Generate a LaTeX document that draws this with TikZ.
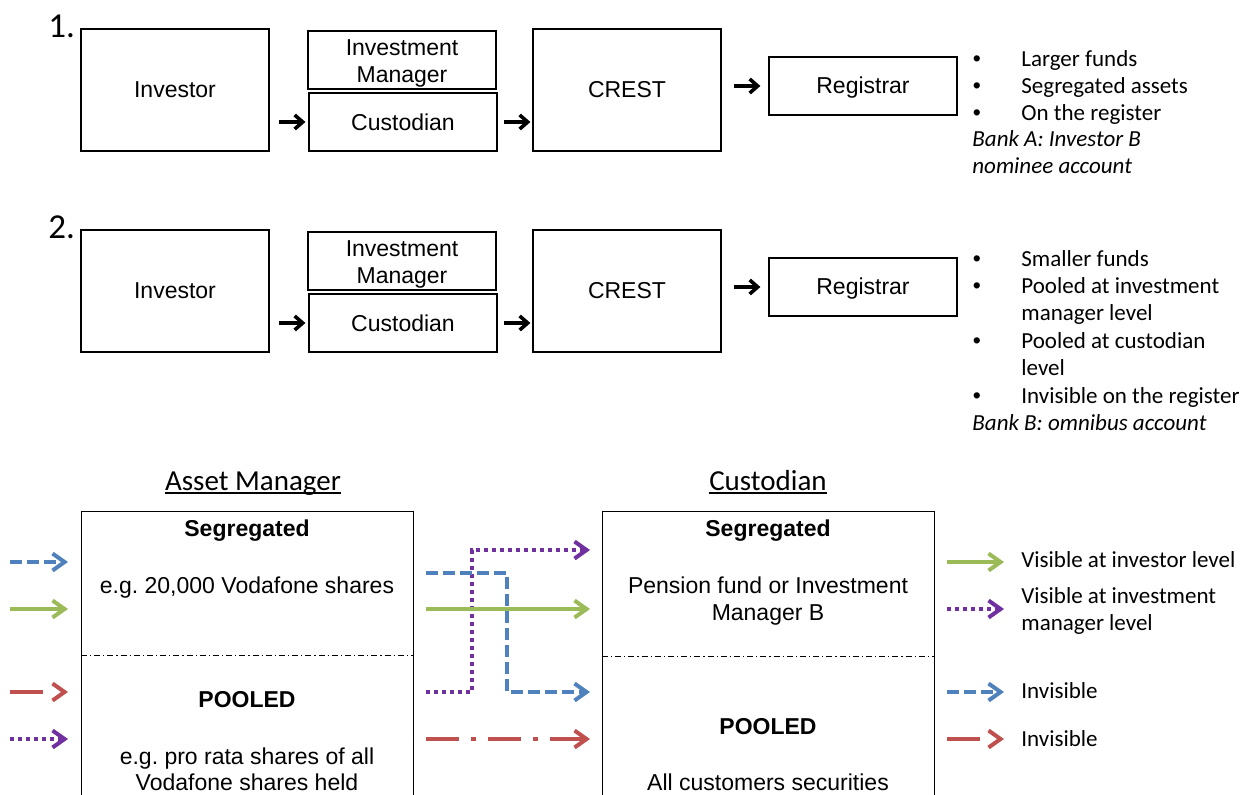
\documentclass[tikz,border=0pt]{standalone}
\usepackage{fontspec}
\setmainfont{Liberation Sans}
\newfontfamily\calibri{Carlito}
\usepackage{tikz}
\usetikzlibrary{arrows.meta,positioning,calc}
\frenchspacing

\definecolor{accblue}{RGB}{79,129,189}
\definecolor{accgreen}{RGB}{155,187,89}
\definecolor{accred}{RGB}{192,80,77}
\definecolor{accpurple}{RGB}{112,48,160}

\begin{document}
\begin{tikzpicture}[x=0.5pt,y=-0.5pt,
    box/.style={draw, line width=0.6pt, inner sep=0pt, align=center,
      font=\fontsize{11.5}{13.5}\selectfont},
    tallbox/.style={box, minimum width=94pt, minimum height=61pt},
    flatbox/.style={box, minimum width=94pt, minimum height=29pt},
    panel/.style={draw, line width=0.6pt, minimum width=166pt, minimum height=150pt, anchor=north west},
    blk/.style={line width=1.8pt, -{Straight Barb[length=4pt,width=7pt,line width=1.8pt]}},
    num/.style={font=\calibri\fontsize{17.5}{20}\selectfont, inner sep=0pt, anchor=base west},
    note/.style={font=\calibri\fontsize{11.5}{13.7}\selectfont, inner sep=0pt, anchor=base west},
    bul/.style={font=\fontsize{11.5}{13.7}\selectfont, inner sep=0pt, anchor=base},
    head/.style={font=\calibri\fontsize{14.5}{17}\selectfont, inner sep=0pt, anchor=base},
    txt/.style={font=\fontsize{11.5}{13.5}\selectfont, inner sep=0pt, anchor=base},
    ttl/.style={font=\bfseries\fontsize{11.5}{13.5}\selectfont, inner sep=0pt, anchor=base},
    legend/.style={note},
    divider/.style={line width=0.5pt, dash pattern=on 3pt off 1.5pt on 0.6pt off 1.5pt},
    flow/.style={line width=2pt, -{Straight Barb[length=6pt,width=8.5pt,line width=2pt]}},
    vis/.style={flow, accgreen},
    imv/.style={flow, accpurple, dash pattern=on 2pt off 2pt},
    hid/.style={flow, accblue, dash pattern=on 6pt off 2.5pt},
    hidr/.style={flow, accred, dash pattern=on 16.5pt off 30pt},
    hidrd/.style={flow, accred, dash pattern=on 16.5pt off 6pt on 2.5pt off 6pt}
  ]
  \useasboundingbox (0,0) rectangle (1240,794);
  \clip (0,0) rectangle (1240,794);

  % Chains 1 and 2
  \foreach \n/\dy in {1/0,2/201}{
    \node[num] (num\n) at (48,37+\dy) {\n.};
    \node[tallbox] (inv\n) at (175,90+\dy) {Investor};
    \node[flatbox] (im\n) at (402,60+\dy) {\rule{0pt}{11.5pt}Investment\\Manager};
    \node[flatbox] (cus\n) at (403,122+\dy) {Custodian};
    \node[tallbox] (crest\n) at (627,90+\dy) {CREST};
    \node[flatbox] (reg\n) at (863,86+\dy) {\rule{0pt}{9.5pt}Registrar};
    \draw[blk, shorten <=4.5pt, shorten >=1.5pt] (cus\n.west -| inv\n.east) -- (cus\n.west);
    \draw[blk, shorten <=3.25pt, shorten >=1pt] (cus\n.east) -- (cus\n.east -| crest\n.west);
    \draw[blk, shorten <=6pt, shorten >=4pt] (reg\n.west -| crest\n.east) -- (reg\n.west);
  }

  % Notes 1
  \foreach \yy/\txt [count=\i] in {66/Larger funds, 93.4/Segregated assets, 120.8/On the register}{
    \node[bul] (ba\i) at (977,\yy) {\textbullet};
    \node[note] (na\i) at (1021,\yy) {\txt};
  }
  \node[note] (bankA) at (972,146.7) {\itshape Bank A: Investor B};
  \node[note] (bankA2) at (972,173.4) {\itshape nominee account};

  % Notes 2
  \foreach \yy [count=\i] in {266,293.4,348.2,403}
    \node[bul] (bb\i) at (977,\yy) {\textbullet};
  \foreach \yy/\txt [count=\i] in {266/Smaller funds, 293.4/Pooled at investment,
      320.8/manager level, 348.2/Pooled at custodian, 375.6/level, 403/Invisible on the register}
    \node[note] (nb\i) at (1021,\yy) {\txt};
  \node[note] (bankB) at (972,430.4) {\itshape Bank B: omnibus account};

  % Holdings
  \node[head] (amh) at (253,490) {Asset Manager};
  \node[head] (cuh) at (768,490) {Custodian};
  \draw[line width=0.75pt] ([yshift=-1.5pt]amh.base west) -- ([yshift=-1.5pt]amh.base east);
  \draw[line width=0.75pt] ([yshift=-1.5pt]cuh.base west) -- ([yshift=-1.5pt]cuh.base east);

  \node[panel] (am) at (81,511) {};
  \node[panel] (cu) at (602,511) {};
  \coordinate (dv1) at (0,655);
  \coordinate (dv2) at (0,656);
  \draw[divider] (am.west |- dv1) -- (am.east |- dv1);
  \draw[divider] (cu.west |- dv2) -- (cu.east |- dv2);

  \node[ttl] (amseg) at (247,536) {Segregated};
  \node[txt] (amex) at (247,593) {e.g. 20,000 Vodafone shares};
  \node[ttl] (ampool) at (247,707) {POOLED};
  \node[txt] (amex2) at (247,764) {e.g. pro rata shares of all};
  \node[txt] (amex3) at (247,790) {Vodafone shares held};

  \node[ttl] (cuseg) at (768,536) {Segregated};
  \node[txt] (cuex) at (768,593) {Pension fund or Investment};
  \node[txt] (cuex2) at (768,620) {Manager B};
  \node[ttl] (cupool) at (768,734) {POOLED};
  \node[txt] (cuex3) at (768,790) {All customers securities};

  % Flows in
  \coordinate (in1) at (10,562);
  \coordinate (in2) at (10,609);
  \coordinate (in3) at (10,692);
  \coordinate (in4) at (10,739);
  \draw[hid, shorten >=6.5pt] (in1) -- (in1 -| am.west);
  \draw[vis, shorten >=6.5pt] (in2) -- (in2 -| am.west);
  \draw[hidr, shorten >=6.5pt] (in3) -- (in3 -| am.west);
  \draw[imv, shorten >=6.5pt] (in4) -- (in4 -| am.west);

  % Flows across
  \coordinate (jog1) at (472,550);
  \coordinate (jog2) at (507,573);
  \draw[imv, shorten <=6pt, shorten >=6pt] (in3 -| am.east) -| (jog1) -- (jog1 -| cu.west);
  \draw[hid, shorten <=6pt, shorten >=6pt] (jog2 -| am.east) -- (jog2) |- (in3 -| cu.west);
  \draw[vis, shorten <=6pt, shorten >=6pt] (in2 -| am.east) -- (in2 -| cu.west);
  \draw[hidrd, shorten <=6pt, shorten >=6pt] (in4 -| am.east) -- (in4 -| cu.west);

  % Legend
  \node[legend] (lg1) at (1021,567) {Visible at investor level};
  \node[legend] (lg2) at (1021,603) {Visible at investment};
  \node[legend] (lg2b) at (1021,630) {manager level};
  \node[legend] (lg3) at (1021,698) {Invisible};
  \node[legend] (lg4) at (1021,746) {Invisible};
  \draw[vis, shorten <=6pt, shorten >=8.5pt] (in1 -| cu.east) -- (in1 -| lg1.west);
  \draw[imv, shorten <=6pt, shorten >=8.5pt] (in2 -| cu.east) -- (in2 -| lg2.west);
  \draw[hid, shorten <=6pt, shorten >=8.5pt] (in3 -| cu.east) -- (in3 -| lg3.west);
  \draw[hidr, shorten <=6pt, shorten >=8.5pt] (in4 -| cu.east) -- (in4 -| lg4.west);
\end{tikzpicture}
\end{document}
